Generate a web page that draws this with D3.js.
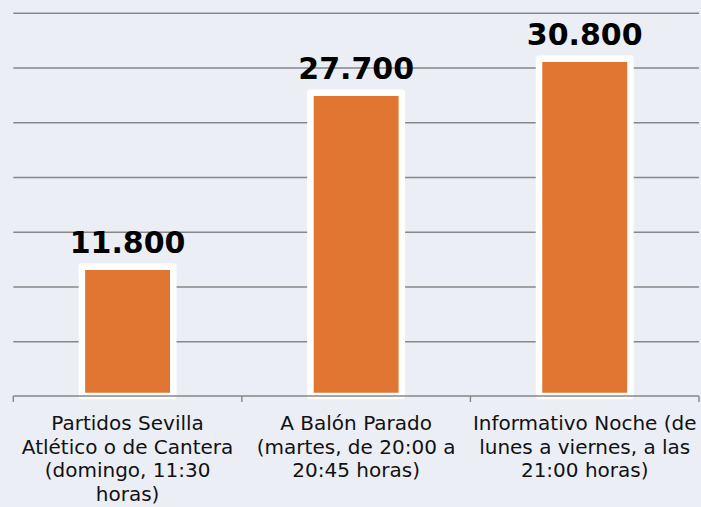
<!DOCTYPE html>
<html>
<head>
<meta charset="utf-8">
<script src="https://cdn.jsdelivr.net/npm/d3@7"></script>
<style>
  html, body { margin: 0; padding: 0; background: #eceef6; }
  svg { display: block; }
</style>
</head>
<body>
<div id="chart"></div>
<script>
// data
const categories = ["cat1", "cat2", "cat3"];
const labelLines = [
  ["Partidos Sevilla", "Atlético o de Cantera", "(domingo, 11:30", "horas)"],
  ["A Balón Parado", "(martes, de 20:00 a", "20:45 horas)"],
  ["Informativo Noche (de", "lunes a viernes, a las", "21:00 horas)"]
];
const values = [11800, 27700, 30800];
const valueLabels = ["11.800", "27.700", "30.800"];
const yTicks = [0, 5000, 10000, 15000, 20000, 25000, 30000, 35000];

const W = 701, H = 507;
const margin = { top: 12.7, right: 2, bottom: 111, left: 13.3 };
const width = W - margin.left - margin.right;
const height = H - margin.top - margin.bottom;

const svg = d3.select("#chart").append("svg")
  .attr("width", W)
  .attr("height", H);

svg.append("rect")
  .attr("width", W)
  .attr("height", H)
  .attr("fill", "#eceef6");

const g = svg.append("g")
  .attr("transform", "translate(" + margin.left + "," + margin.top + ")");

const x = d3.scaleBand().domain(categories).range([0, width]).paddingInner(0).paddingOuter(0);
const y = d3.scaleLinear().domain([0, 35000]).range([height, 0]);

// gridlines
g.append("g")
  .attr("class", "grid")
  .call(d3.axisLeft(y).tickValues(yTicks.slice(1)).tickSize(-width).tickFormat(""))
  .call(s => s.select(".domain").remove())
  .call(s => s.selectAll("line").attr("stroke", "#878787").attr("stroke-width", 1.4));

// bars
const barW = x.bandwidth() * 0.4;
g.selectAll(".bar")
  .data(values)
  .enter()
  .append("rect")
  .attr("class", "bar")
  .attr("x", (d, i) => x(categories[i]) + (x.bandwidth() - barW) / 2)
  .attr("y", d => y(d))
  .attr("width", barW)
  .attr("height", d => height - y(d))
  .attr("fill", "#e07632")
  .attr("stroke", "#ffffff")
  .attr("stroke-width", 6.5)
  .attr("stroke-linejoin", "round");

// value labels
g.selectAll(".val")
  .data(values)
  .enter()
  .append("text")
  .attr("class", "val")
  .attr("x", (d, i) => x(categories[i]) + x.bandwidth() / 2)
  .attr("y", d => y(d) - 14)
  .attr("text-anchor", "middle")
  .style("font", "bold 30px 'DejaVu Sans', Verdana, sans-serif")
  .attr("fill", "#000")
  .text((d, i) => valueLabels[i]);

// x axis
const xAxis = g.append("g")
  .attr("class", "axis")
  .attr("transform", "translate(0," + height + ")");

xAxis.append("line")
  .attr("x1", 0).attr("x2", width)
  .attr("stroke", "#878787").attr("stroke-width", 1.4);

const edges = categories.map(c => x(c)).concat([width]);
xAxis.selectAll(".tick")
  .data(edges)
  .enter()
  .append("line")
  .attr("x1", d => d).attr("x2", d => d)
  .attr("y1", 0).attr("y2", 6)
  .attr("stroke", "#878787").attr("stroke-width", 1.4);

const lbl = xAxis.selectAll(".lbl")
  .data(categories)
  .enter()
  .append("text")
  .attr("class", "lbl")
  .attr("x", d => x(d) + x.bandwidth() / 2)
  .attr("y", 34)
  .attr("text-anchor", "middle")
  .style("font", "20px 'DejaVu Sans', Verdana, sans-serif")
  .attr("fill", "#111");

lbl.selectAll("tspan")
  .data((d, i) => labelLines[i])
  .enter()
  .append("tspan")
  .attr("x", function() { return d3.select(this.parentNode).attr("x"); })
  .attr("dy", (d, i) => i === 0 ? 0 : 23.6)
  .text(d => d);
</script>
</body>
</html>
